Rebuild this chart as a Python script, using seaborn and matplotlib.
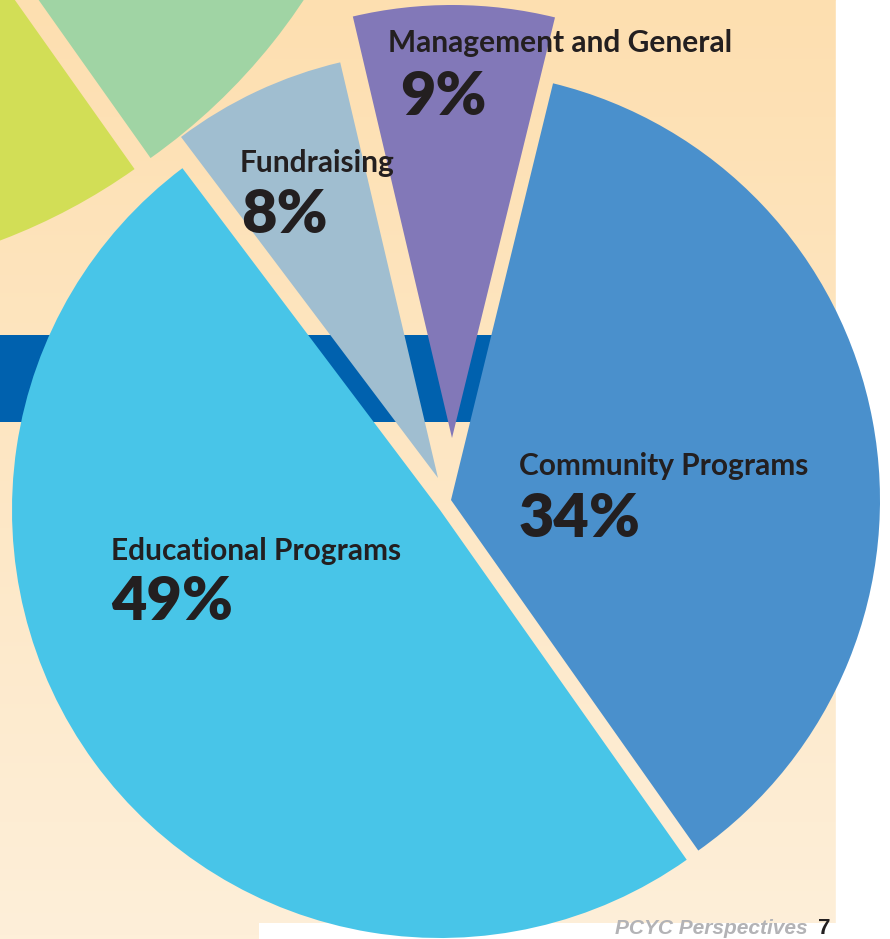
import numpy as np
import matplotlib
matplotlib.use("Agg")
import matplotlib.pyplot as plt
from matplotlib.colors import LinearSegmentedColormap
import seaborn as sns

# Expense pie, listed counter-clockwise from the lower edge of Community Programs
categories = ["Community Programs", "Management and General", "Fundraising", "Educational Programs"]
label_pct = [34, 9, 8, 49]
# share of the circle each wedge actually covers in the artwork
drawn_share = [36.4, 7.5, 6.6, 49.5]

# two slices of the neighbouring (revenue) pie poking into the top-left corner
side_names = ["yellow slice", "green slice"]
side_share = [0.08, 0.09]

# canvas is laid out in pixel units, y measured from the top like the artwork
W, H = 890, 939


def up(y):
    return H - y


colors = sns.color_palette(["#4a90cc", "#8278b8", "#a0bed0", "#48c5e8"])
side_colors = ["#d2de56", "#a0d4a4"]

# each wedge was nudged by hand in the artwork, so centres are set one by one
wedge_center = [(451, 500), (452, 438), (438, 478), (440, 510)]
wedge_radius = [429, 433, 427, 428]
side_center = [(-211, -319), (-195, -330)]
side_radius = 598

# name x, name baseline, percent x, percent baseline
label_pos = {
    "Community Programs": (519, 475, 519, 537),
    "Management and General": (388, 52, 400, 115),
    "Fundraising": (240, 172, 241, 233),
    "Educational Programs": (111, 560, 111, 620),
}

sns.set_style("white")
plt.rcParams["font.family"] = ["Lato", "DejaVu Sans"]

fig = plt.figure(figsize=(W / 100, H / 100), dpi=100)
fig.patch.set_facecolor("white")
ax = fig.add_axes([0, 0, 1, 1])

# peach page background, darker at the top
grad = LinearSegmentedColormap.from_list("page", ["#feefd9", "#fddfb0"])
ax.imshow(np.linspace(0, 1, 256).reshape(-1, 1), cmap=grad, aspect="auto",
          extent=(0, 836, 0, H), origin="lower", zorder=0)
# white page margin on the right and along the bottom
ax.axvspan(836, W, color="white", zorder=0.5)
ax.fill_between([259, 836], 0, up(923), color="white", zorder=0.5, lw=0)
# dark blue stripe running behind the pie
ax.fill_between([0, 836], up(422), up(335), color="#0061ae", zorder=1, lw=0)

# main pie
wedges, _ = ax.pie(drawn_share, colors=colors, startangle=-54.8, counterclock=True,
                   radius=1, wedgeprops=dict(linewidth=0))
for w, c, r in zip(wedges, wedge_center, wedge_radius):
    w.set_center((c[0], up(c[1])))
    w.set_radius(r)
    w.set_zorder(2)

# neighbouring pie, mostly off the page
side, _ = ax.pie(side_share, colors=side_colors, startangle=-83.5, counterclock=True,
                 normalize=False, radius=1, wedgeprops=dict(linewidth=0))
for w, c in zip(side, side_center):
    w.set_center((c[0], up(c[1])))
    w.set_radius(side_radius)
    w.set_zorder(2)

ink = "#231f20"
for name, pct in zip(categories, label_pct):
    xn, yn, xp, yp = label_pos[name]
    ax.text(xn, up(yn), name, fontsize=21.5, fontweight="bold", color=ink,
            ha="left", va="baseline", zorder=3)
    ax.text(xp, up(yp), f"{pct}%", fontsize=44, fontweight="heavy", color=ink,
            ha="left", va="baseline", zorder=3)

# page footer
ax.text(808, up(934), "PCYC Perspectives", fontsize=15, fontweight="bold", style="italic",
        color="#b3b3b6", family=["Liberation Sans", "DejaVu Sans"], ha="right", va="baseline", zorder=3)
ax.text(818, up(934), "7", fontsize=16, fontweight="bold", color=ink,
        family=["Liberation Sans", "DejaVu Sans"], ha="left", va="baseline", zorder=3)

ax.set_aspect("equal")
ax.set_xlim(0, W)
ax.set_ylim(0, H)
ax.axis("off")

fig.savefig("out.png", dpi=100)
